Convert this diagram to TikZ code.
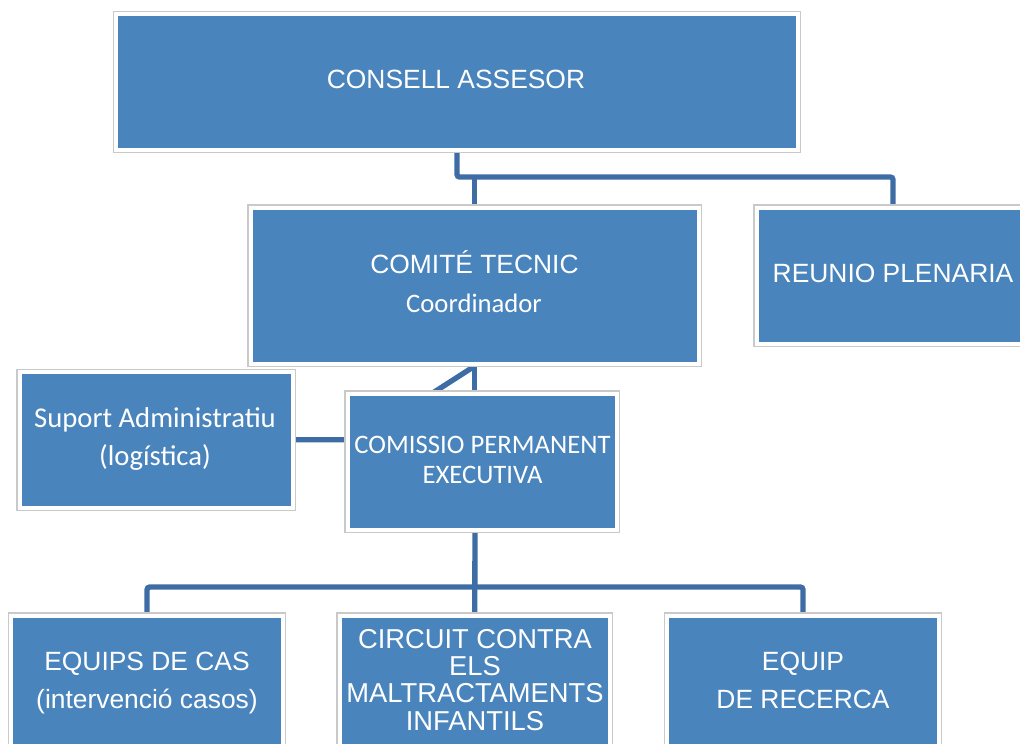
\documentclass[tikz,border=0pt]{standalone}
\usepackage{fontspec}
\setmainfont{Liberation Sans}
\newfontfamily\calfont{Carlito}
\usetikzlibrary{fit,backgrounds}
\definecolor{boxblue}{HTML}{4A84BC}
\definecolor{linkblue}{HTML}{3D6DA4}
\definecolor{framegray}{HTML}{C9C9C9}
\tikzset{
  orgbox/.style={fill=boxblue, draw=white, line width=3pt, inner sep=0pt,
    preaction={draw=framegray, line width=4.6pt}},
  link/.style={draw=linkblue, line width=4pt, rounded corners=2pt},
  lbl/.style={text=white, inner sep=0pt, align=center, anchor=base},
  arial/.style={font=\fontsize{19.8}{28}\selectfont},
  arialtight/.style={font=\fontsize{20.5}{20.4}\selectfont},
  calib/.style={font=\calfont\fontsize{20}{22.5}\selectfont},
  calibwide/.style={font=\calfont\fontsize{21.5}{28.5}\selectfont},
}
\begin{document}
\begin{tikzpicture}[x=0.75pt,y=-0.75pt]
\useasboundingbox (0,0) rectangle (1020,743);
\clip (0,0) rectangle (1020,743);
% boxes
\node[orgbox, fit={(116,14)(798,149.5)}] (consell) {};
\node[orgbox, fit={(250.5,207.5)(699,364)}] (comite) {};
\node[orgbox, fit={(756.5,207.5)(1029.5,343.5)}] (reunio) {};
\node[orgbox, fit={(19.5,372)(292.5,507.5)}] (suport) {};
\node[orgbox, fit={(347.5,393.5)(617,529.5)}] (comissio) {};
\node[orgbox, fit={(11,615.5)(283,790)}] (equips) {};
\node[orgbox, fit={(339.5,615.5)(610,790)}] (circuit) {};
\node[orgbox, fit={(667,615.5)(939,790)}] (recerca) {};
% connectors
\begin{scope}[on background layer]
\coordinate (j1) at (457,177);
\coordinate (j2) at (475,587);
\coordinate (bend) at (360,439.75);
\draw[link] (consell.south) -- (j1) -| (reunio.north);
\draw[link] (comite.north) -- (comite.north |- j1);
\draw[link] (comite.south) -- (comite.south |- comissio.north);
\draw[link] (comite.south) -- (bend) -- (suport.east);
\draw[link] (j2 |- comissio.south) -- (circuit.north);
\draw[link] (equips.north) |- (j2) -| (recerca.north);
\end{scope}
% texts (anchor = baseline of the last line)
\node[lbl, arial] (tconsell) at (456,88) {CONSELL ASSESOR};
\node[lbl, arial] (tcomite) at (474.5,273) {COMITÉ TECNIC};
\node[lbl, calib] (tcoord) at (474,312) {Coordinador};
\node[lbl, arial] (treunio) at (893,282) {REUNIO PLENARIA};
\node[lbl, calibwide] (tsuport) at (155,465) {Suport Administratiu\\(logística)};
\node[lbl, calib] (tcomissio) at (482.5,483) {COMISSIO PERMANENT\\EXECUTIVA};
\node[lbl, arial] (tequips) at (147,708) {EQUIPS DE CAS\\(intervenció casos)};
\node[lbl, arialtight] (tcircuit) at (475,730) {CIRCUIT CONTRA\\ELS\\MALTRACTAMENTS\\INFANTILS};
\node[lbl, arial] (trecerca) at (803,708) {EQUIP\\DE RECERCA};
\end{tikzpicture}
\end{document}
